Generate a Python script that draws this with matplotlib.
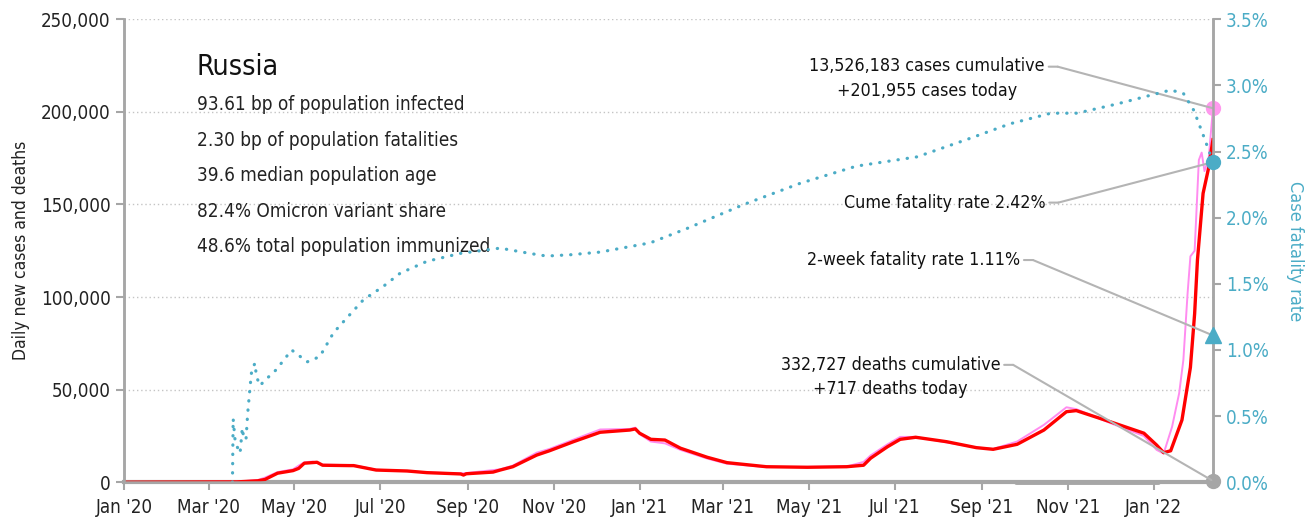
import matplotlib
matplotlib.use("Agg")
import matplotlib.pyplot as plt
import matplotlib.dates as mdates
import matplotlib.ticker as mticker
from matplotlib.text import OffsetFrom
import pandas as pd

plt.rcParams['font.family'] = ['DejaVu Sans']
plt.rcParams['font.stretch'] = 'condensed'

start = pd.Timestamp('2020-01-01')

# 7-day average of new cases (thousands), keyed by day since 2020-01-01
avg_days = [0, 80, 95, 100, 109, 120, 124, 128, 137, 141, 160, 163, 179, 201, 215, 239, 241, 243,
            262, 267, 276, 293, 302, 319, 338, 359, 363, 366, 374, 384, 395, 414, 428, 456, 485,
            513, 525, 530, 542, 551, 562, 584, 605, 617, 634, 653, 669, 676, 700, 724, 733, 738,
            743, 751, 757, 760, 762, 766, 770, 773]
avg_cases = [0, 0.2, 0.8, 1.5, 4.9, 6.3, 7.5, 10.3, 10.8, 9.2, 9.0, 9.0, 6.6, 6.1, 5.2, 4.5, 3.9, 4.6,
             5.5, 6.6, 8.4, 14.7, 17.0, 21.9, 27.0, 28.2, 28.8, 26.5, 23.2, 22.8, 18.4, 13.5, 10.6, 8.4, 8.1,
             8.4, 9.2, 13.0, 19.2, 23.2, 24.3, 21.9, 18.7, 17.8, 20.5, 28.2, 38.1, 38.7, 32.7, 26.5, 20.1, 16.0,
             17.0, 33.6, 62.0, 91.0, 120.0, 156.0, 170.0, 185.0]

# daily new cases (thousands)
daily_days = [0, 80, 95, 100, 109, 120, 124, 128, 134, 141, 163, 179, 201, 215, 239, 243, 267, 276,
              293, 302, 319, 338, 359, 363, 366, 374, 384, 395, 414, 428, 456, 485, 513, 525, 530,
              542, 551, 562, 584, 605, 617, 634, 653, 669, 676, 700, 724, 733, 738, 744, 749, 752,
              755, 757, 760, 763, 765, 767, 770, 773]
daily_cases = [0, 0.3, 1.2, 2.5, 5.5, 7.0, 9.0, 10.8, 11.2, 9.5, 9.2, 6.8, 6.0, 5.3, 4.8, 5.0, 7.0, 9.0,
               16.0, 18.0, 23.0, 28.5, 28.8, 29.5, 26.0, 22.0, 21.0, 17.5, 12.8, 10.0, 8.2, 8.3, 8.5, 11.0, 14.5,
               20.5, 24.5, 24.5, 21.5, 18.8, 18.0, 22.0, 31.0, 40.5, 39.5, 32.0, 25.0, 17.5, 15.5, 30.0, 48.0, 66.0,
               102.0, 122.0, 125.0, 174.0, 178.0, 168.0, 175.0, 201.955]

# cumulative case fatality rate (%)
cfr_days = [77, 77.5, 79, 82.4, 84, 84.8, 86.6, 87.8, 89.5, 90.7, 93, 94, 96.6, 99, 108, 119, 124, 130,
            139, 148.7, 158, 170, 184, 196, 215, 238.6, 267, 288, 300, 317, 338, 373.6, 400, 440, 480,
            520, 563, 598, 629, 658, 676.6, 705, 743, 752, 759.5, 766.6, 770, 773]
cfr = [0, 0.48, 0.30, 0.22, 0.41, 0.35, 0.32, 0.52, 0.72, 0.85, 0.90, 0.80, 0.73, 0.76, 0.85, 1.00, 0.96, 0.91,
       0.95, 1.13, 1.24, 1.38, 1.48, 1.58, 1.67, 1.73, 1.77, 1.73, 1.71, 1.72, 1.74, 1.81, 1.92, 2.10, 2.26,
       2.39, 2.46, 2.59, 2.71, 2.79, 2.79, 2.86, 2.965, 2.94, 2.81, 2.61, 2.51, 2.42]

today_cases = 201955
total_cases = 13526183
today_deaths = 717
total_deaths = 332727
cume_rate = 2.42
twoweek_rate = 1.11

info_lines = ['93.61 bp of population infected',
              '2.30 bp of population fatalities',
              '39.6 median population age',
              '82.4% Omicron variant share',
              '48.6% total population immunized']

def to_dates(days):
    return [start + pd.Timedelta(days=d) for d in days]

def dnum(day):
    return mdates.date2num(start + pd.Timedelta(days=day))

avg_x = to_dates(avg_days)
daily_x = to_dates(daily_days)
cfr_x = to_dates(cfr_days)
last = avg_x[-1]
last_n = dnum(avg_days[-1])

blue = '#4bacc6'
grey = '#a6a6a6'

fig = plt.figure(figsize=(13.12, 5.22), dpi=100)
ax = fig.add_axes([0.0945, 0.0761, 0.83, 0.887])
ax2 = ax.twinx()

ax.plot(daily_x, [v * 1000 for v in daily_cases], color='#ff8cf0', lw=1.4, zorder=3)
ax.plot(avg_x, [v * 1000 for v in avg_cases], color='#ff0000', lw=2.4, zorder=4)
ax2.plot(cfr_x, [v / 100 for v in cfr], color=blue, lw=2.3, linestyle=(0, (0.1, 2.8)),
         dash_capstyle='round', zorder=2)

ax.set_xlim(start, last)
ax.set_ylim(0, 250000)
ax2.set_ylim(0, 0.035)

ax.yaxis.set_major_locator(mticker.MultipleLocator(50000))
ax.yaxis.set_major_formatter(mticker.FuncFormatter(lambda v, p: f'{int(v):,}'))
ax2.yaxis.set_major_locator(mticker.MultipleLocator(0.005))
ax2.yaxis.set_major_formatter(mticker.FuncFormatter(lambda v, p: f'{v * 100:.1f}%'))
ax.xaxis.set_major_locator(mdates.MonthLocator(bymonth=[1, 3, 5, 7, 9, 11]))
ax.xaxis.set_major_formatter(mdates.DateFormatter("%b '%y"))

ax.grid(axis='y', color='#c4c4c4', linestyle=(0, (1, 2)), lw=1)
for a in (ax, ax2):
    for s in a.spines.values():
        s.set_color(grey)
        s.set_linewidth(1.8)
    a.spines['top'].set_visible(False)
ax.spines['bottom'].set_linewidth(3)
ax.tick_params(axis='both', colors=grey, labelcolor='#222222', labelsize=13.5, length=6, width=1.5)
ax.tick_params(axis='x', pad=5)
ax2.tick_params(axis='y', colors=grey, labelcolor=blue, labelsize=13.5, length=6, width=1.5)

ax.set_ylabel('Daily new cases and deaths', fontsize=12.5, color='#222222', labelpad=8)
ax2.set_ylabel('Case fatality rate', fontsize=13, color=blue, rotation=270, labelpad=25)

# bar on the axis for the recent range
ax.plot(to_dates([633, 734]), [0, 0], color=grey, lw=3.5, solid_capstyle='round',
        clip_on=False, zorder=5)

# end-of-series markers
ax.plot([last], [today_cases], 'o', color='#ff99ee', ms=10, clip_on=False, zorder=6)
ax.plot([last], [today_deaths], 'o', color=grey, ms=10, clip_on=False, zorder=6)
ax2.plot([last], [cume_rate / 100], 'o', color=blue, ms=10, clip_on=False, zorder=6)
ax2.plot([last], [twoweek_rate / 100], '^', color=blue, ms=11, clip_on=False, zorder=6)

line_kw = dict(arrowstyle='-', color='#b4b4b4', lw=1.5, shrinkA=0, shrinkB=0)


def callout(label, xy, xytext, point_coords, anchor_y, ha):
    # label, short horizontal tick after it, then a straight run to the marker
    t = ax.text(xytext[0], xytext[1], label, ha=ha, va='center', fontsize=12.8,
                linespacing=1.45, color='#111111', zorder=7)
    ref = OffsetFrom(t, (1, anchor_y), unit='pixels')
    ax.annotate('', xy=(4, 0), xycoords=ref, xytext=(13, 0), textcoords=ref,
                arrowprops=line_kw, zorder=7)
    ax.annotate('', xy=xy, xycoords=point_coords, xytext=(13, 0), textcoords=ref,
                arrowprops=line_kw, zorder=7)


callout(f'{total_cases:,} cases cumulative\n+{today_cases:,} cases today',
        (last_n, today_cases), (dnum(570), 218000), ax.transData, 0.78, 'center')
callout(f'{total_deaths:,} deaths cumulative\n+{today_deaths} deaths today',
        (last_n, today_deaths), (dnum(544), 57000), ax.transData, 0.78, 'center')
callout(f'Cume fatality rate {cume_rate:.2f}%',
        (last_n, cume_rate / 100), (dnum(654), 151000), ax2.transData, 0.5, 'right')
callout(f'2-week fatality rate {twoweek_rate:.2f}%',
        (last_n, twoweek_rate / 100), (dnum(636), 120000), ax2.transData, 0.5, 'right')

ax.text(0.067, 0.896, 'Russia', transform=ax.transAxes, fontsize=20.5, va='center', color='#111111')
for i, t in enumerate(info_lines):
    ax.text(0.067, 0.815 - i * 0.0765, t, transform=ax.transAxes, fontsize=13.6, va='center',
            color='#222222')

fig.savefig('out.png', dpi=100)
